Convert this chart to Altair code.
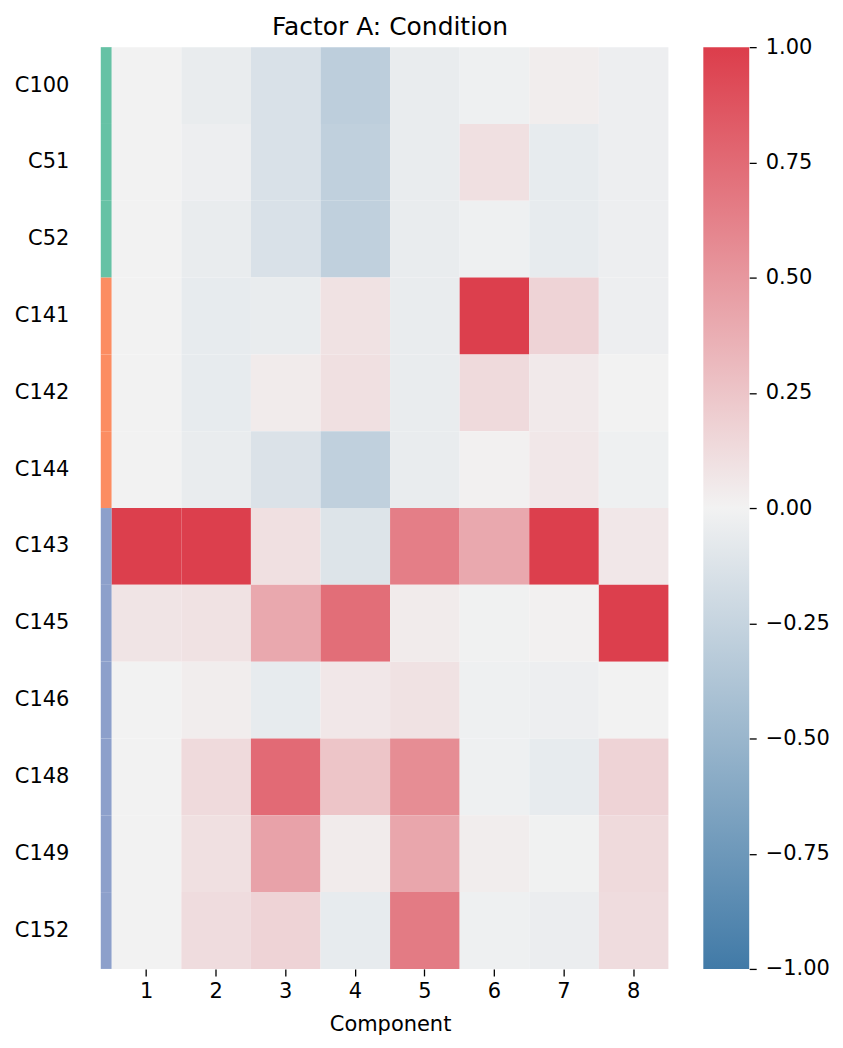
import altair as alt
import pandas as pd

rows = ["C100", "C51", "C52", "C141", "C142", "C144",
        "C143", "C145", "C146", "C148", "C149", "C152"]
groups = ["G1", "G1", "G1", "G2", "G2", "G2",
          "G3", "G3", "G3", "G3", "G3", "G3"]
components = [1, 2, 3, 4, 5, 6, 7, 8]

C100 = [0.00, -0.05, -0.14, -0.30, -0.05, -0.02, 0.03, -0.03]
C51 = [0.00, -0.03, -0.14, -0.28, -0.05, 0.10, -0.06, -0.03]
C52 = [0.00, -0.05, -0.14, -0.28, -0.05, -0.02, -0.06, -0.03]
C141 = [0.00, -0.06, -0.05, 0.09, -0.05, 0.99, 0.17, -0.03]
C142 = [0.00, -0.06, 0.04, 0.10, -0.05, 0.13, 0.05, 0.00]
C144 = [0.00, -0.05, -0.13, -0.28, -0.05, 0.01, 0.06, -0.02]
C143 = [0.99, 0.99, 0.10, -0.12, 0.64, 0.41, 0.99, 0.06]
C145 = [0.08, 0.09, 0.41, 0.73, 0.04, -0.01, 0.01, 0.99]
C146 = [0.00, 0.03, -0.06, 0.06, 0.09, -0.02, -0.03, 0.00]
C148 = [0.00, 0.13, 0.75, 0.25, 0.56, -0.02, -0.06, 0.17]
C149 = [0.00, 0.10, 0.44, 0.04, 0.42, 0.03, -0.01, 0.13]
C152 = [0.00, 0.12, 0.17, -0.06, 0.66, -0.02, -0.04, 0.12]

matrix = [C100, C51, C52, C141, C142, C144, C143, C145, C146, C148, C149, C152]

cbar_ticks = [-1.0, -0.75, -0.5, -0.25, 0.0, 0.25, 0.5, 0.75, 1.0]
vmin, vmax = -1.0, 1.0

group_colors = ["#66c2a5", "#fc8d62", "#8da0cb"]
cmap = ["#417aa7", "#f2f2f2", "#dc3d4b"]

recs = []
for r, vals in zip(rows, matrix):
    for c, v in zip(components, vals):
        recs.append({"Row": r, "Component": c, "Value": v})
df = pd.DataFrame(recs)
gdf = pd.DataFrame({"Row": rows, "Group": groups})
cdf = pd.DataFrame({"lo": [vmin], "hi": [vmax]})

FONT = "DejaVu Sans"
H = 924
FS = 21

strip = alt.Chart(gdf).mark_rect().encode(
    y=alt.Y("Row:N", sort=rows, title=None,
            axis=alt.Axis(ticks=False, domain=False, labelPadding=32,
                          labelFontSize=FS, labelColor="black", labelFont=FONT)),
    color=alt.Color("Group:N", scale=alt.Scale(domain=["G1", "G2", "G3"], range=group_colors),
                    legend=None),
).properties(width=11, height=H)

heat = alt.Chart(df).mark_rect().encode(
    x=alt.X("Component:O", title="Component",
            axis=alt.Axis(labelAngle=0, domain=False, tickSize=7, tickColor="black",
                          tickWidth=1.3, labelPadding=5, labelFontSize=FS,
                          labelColor="black", labelFont=FONT, titleFontSize=FS,
                          titleFont=FONT, titleFontWeight="normal", titleColor="black",
                          titlePadding=12)),
    y=alt.Y("Row:N", sort=rows, axis=None),
    color=alt.Color("Value:Q",
                    scale=alt.Scale(domain=[vmin, 0, vmax], range=cmap, interpolate="rgb"),
                    legend=None),
).properties(
    width=558, height=H,
    title=alt.TitleParams("Factor A: Condition", fontSize=25, font=FONT,
                          fontWeight="normal", color="black", anchor="middle", offset=7),
)

grad = alt.Gradient(
    gradient="linear",
    stops=[alt.GradientStop(color=cmap[0], offset=0),
           alt.GradientStop(color=cmap[1], offset=0.5),
           alt.GradientStop(color=cmap[2], offset=1)],
    x1=0, x2=0, y1=1, y2=0,
)

cbar = alt.Chart(cdf).mark_rect(fill=grad).encode(
    y=alt.Y("lo:Q", scale=alt.Scale(domain=[vmin, vmax], nice=False, zero=False),
            title=None,
            axis=alt.Axis(orient="right", values=cbar_ticks, format=".2f", domain=False,
                          grid=False, tickSize=7, tickColor="black", tickWidth=1.3,
                          labelPadding=9, labelFontSize=FS, labelFont=FONT,
                          labelColor="black", labelOverlap=False, labelFlush=False)),
    y2="hi:Q",
).properties(width=46, height=H)

left = alt.hconcat(strip, heat, spacing=0)

chart = alt.hconcat(left, cbar, spacing=35).resolve_scale(
    color="independent", y="independent"
).properties(
    padding={"left": 6, "top": 6, "right": 5, "bottom": 5}
).configure_view(stroke=None)

chart.save("out.html", embed_options={"renderer": "svg", "actions": False})
